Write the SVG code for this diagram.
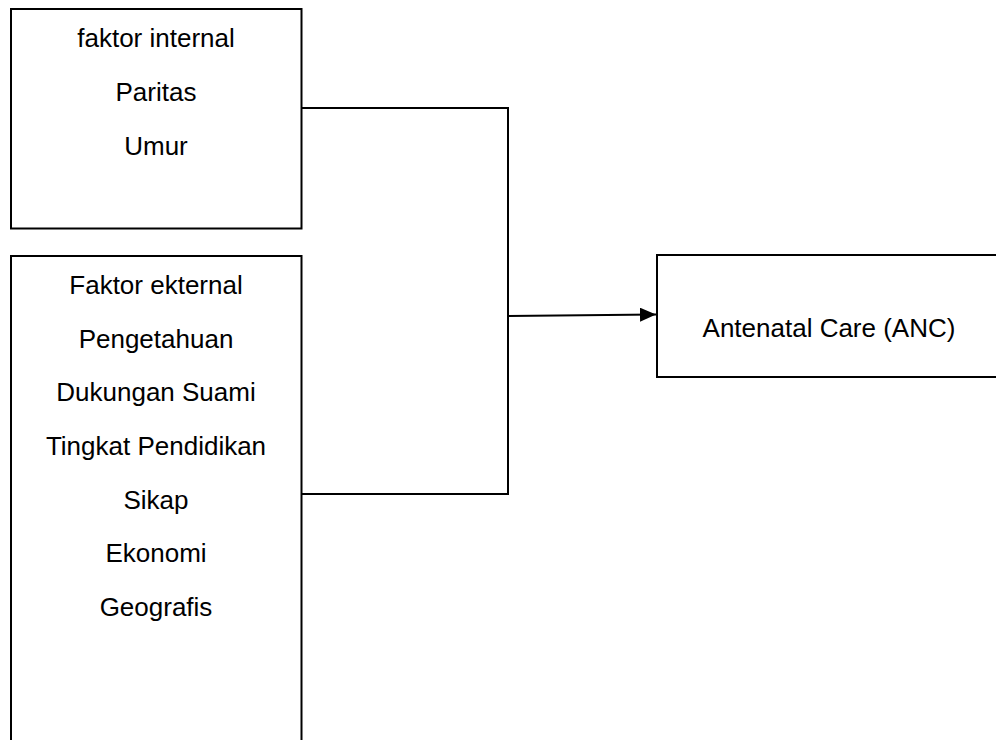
<svg xmlns="http://www.w3.org/2000/svg" width="996" height="740" viewBox="0 0 996 740">
<style>
.box{fill:#fff;stroke:#000;stroke-width:2}
.t{font-family:"Liberation Sans",Arial,sans-serif;font-size:26px;fill:#000;text-anchor:middle}
.c{fill:none;stroke:#000;stroke-width:2}
</style>
<defs>
<marker id="arr" markerWidth="10" markerHeight="10" refX="9" refY="5" orient="auto" markerUnits="userSpaceOnUse" viewBox="0 0 10 10">
<path d="M0,0 L10,5 L0,10 Z" fill="#000"/>
</marker>
<marker id="ah" viewBox="0 0 16 14" markerWidth="16" markerHeight="14" refX="16" refY="7" orient="auto" markerUnits="userSpaceOnUse">
<path d="M0,0 L16,7 L0,14 Z" fill="#000"/>
</marker>
</defs>
<rect width="996" height="740" fill="#fff"/>
<g id="internal">
<rect class="box" x="11" y="9" width="290.5" height="219.5"/>
<text class="t" x="156" y="47">faktor internal</text>
<text class="t" x="156" y="101">Paritas</text>
<text class="t" x="156" y="155">Umur</text>
</g>
<g id="eksternal">
<rect class="box" x="11" y="256" width="290.5" height="520"/>
<text class="t" x="156" y="294">Faktor ekternal</text>
<text class="t" x="156" y="348">Pengetahuan</text>
<text class="t" x="156" y="401">Dukungan Suami</text>
<text class="t" x="156" y="455">Tingkat Pendidikan</text>
<text class="t" x="156" y="509">Sikap</text>
<text class="t" x="156" y="562">Ekonomi</text>
<text class="t" x="156" y="616">Geografis</text>
</g>
<g id="anc">
<rect class="box" x="657" y="255" width="360" height="122"/>
<text class="t" x="829" y="337">Antenatal Care (ANC)</text>
</g>
<g id="connectors">
<polyline class="c" points="301.5,108 508,108 508,494 301.5,494"/>
<line class="c" x1="508" y1="316" x2="656" y2="314.5" marker-end="url(#ah)"/>
</g>
</svg>
